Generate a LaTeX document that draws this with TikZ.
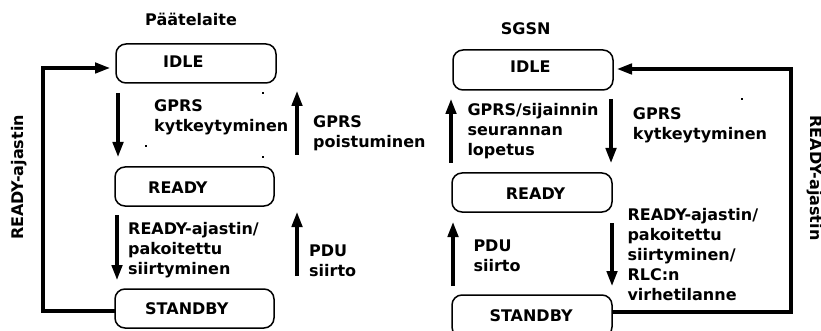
\documentclass[tikz,border=0pt]{standalone}
\usepackage{fontspec}
\setmainfont{DejaVu Sans}
\usetikzlibrary{arrows.meta}
\newcommand{\fl}{\rule{0pt}{12.5pt}}
\tikzset{
  statebox/.style={draw, line width=1.5pt, rounded corners=10pt, inner sep=0pt},
  lbl/.style={font=\fontsize{16}{20}\selectfont\bfseries, inner sep=0pt, align=left, anchor=north west},
  slbl/.style={font=\fontsize{16}{20}\selectfont\bfseries, inner sep=0pt, anchor=base west},
  rlbl/.style={font=\fontsize{16}{20}\selectfont\bfseries, inner sep=0pt, anchor=base},
  trans/.style={line width=3.1pt, -{Triangle[length=15pt,width=10.5pt]}},
  speck/.style={fill=black, inner sep=0pt, minimum size=2pt}
}
\begin{document}
\begin{tikzpicture}[x=1pt,y=-1pt]
\useasboundingbox (0,0) rectangle (821,331);
\clip (0,0) rectangle (821,331);
% ---------------- left: Paatelaite
\node[slbl] (t1) at (145,26) {Päätelaite};
\node[statebox, minimum width=160pt, minimum height=39pt] (idle1) at (196,63.5) {};
\node[statebox, minimum width=159pt, minimum height=39pt] (ready1) at (194.5,186.5) {};
\node[statebox, minimum width=159pt, minimum height=39pt] (sb1) at (194.5,308.5) {};
\node[slbl] (idle1t) at (163,67.7) {IDLE};
\node[slbl] (ready1t) at (148,193.3) {READY};
\node[slbl] (sb1t) at (145,314) {STANDBY};
% transitions
\coordinate (a1s) at (118,93);  \coordinate (a1e) at (118,157);
\coordinate (a2s) at (297,155); \coordinate (a2e) at (297,91);
\coordinate (a3s) at (117,215); \coordinate (a3e) at (117,280);
\coordinate (a4s) at (297,276); \coordinate (a4e) at (297,212);
\draw[trans] (a1s) -- (a1e);
\draw[trans] (a2s) -- (a2e);
\draw[trans] (a3s) -- (a3e);
\draw[trans] (a4s) -- (a4e);
\node[lbl] (l1) at (154,111-12.5) {\fl GPRS\\kytkeytyminen};
\node[lbl] (l2) at (313,127-12.5) {\fl GPRS\\poistuminen};
\node[lbl] (l3) at (128,234-12.5) {\fl READY-ajastin/\\pakoitettu\\siirtyminen};
\node[lbl] (l4) at (309,256-12.5) {\fl PDU\\siirto};
% loop
\coordinate (lp1) at (115,311);
\coordinate (lp2) at (43,311);
\coordinate (lp3) at (43,68);
\coordinate (lp4) at (110,68);
\draw[trans] (lp1) -- (lp2) -- (lp3) -- (lp4);
\node[rlbl, rotate=90] (rl1) at (23.5,177.5) {READY-ajastin};
% specks
\node[speck] (s1) at (263,93) {};
\node[speck] (s2) at (146,146) {};
\node[speck] (s3) at (263,157) {};
% ---------------- right: SGSN
\node[slbl] (t2) at (500.7,35) {SGSN};
\node[statebox, minimum width=160pt, minimum height=40pt] (idle2) at (533,70) {};
\node[statebox, minimum width=160pt, minimum height=39pt] (ready2) at (532,192.5) {};
\node[statebox, minimum width=160pt, minimum height=42pt] (sb2) at (532,316) {};
\node[slbl] (idle2t) at (510,72.7) {IDLE};
\node[slbl] (ready2t) at (505.7,199) {READY};
\node[slbl] (sb2t) at (489.3,321.7) {STANDBY};
\coordinate (b1s) at (451,163); \coordinate (b1e) at (451,99);
\coordinate (b2s) at (611,99);  \coordinate (b2e) at (611,163);
\coordinate (b3s) at (453,286); \coordinate (b3e) at (453,222);
\coordinate (b4s) at (612,223); \coordinate (b4e) at (612,286);
\draw[trans] (b1s) -- (b1e);
\draw[trans] (b2s) -- (b2e);
\draw[trans] (b3s) -- (b3e);
\draw[trans] (b4s) -- (b4e);
\node[lbl] (m1) at (467.3,115.7-12.5) {\fl GPRS/sijainnin\\seurannan\\lopetus};
\node[lbl] (m2) at (632.7,119-12.5) {\fl GPRS\\kytkeytyminen};
\node[lbl] (m3) at (473.3,251.7-12.5) {\fl PDU\\siirto};
\node[lbl] (m4) at (627.3,220-12.5) {\fl READY-ajastin/\\pakoitettu\\siirtyminen/\\RLC:n\\virhetilanne};
\coordinate (rp1) at (612,312);
\coordinate (rp2) at (791,312);
\coordinate (rp3) at (791,69);
\coordinate (rp4) at (617,69);
\draw[trans] (rp1) -- (rp2) -- (rp3) -- (rp4);
\node[rlbl, rotate=-90] (rl2) at (810,178) {READY-ajastin};
\node[speck] (s4) at (742,99) {};
\end{tikzpicture}
\end{document}
